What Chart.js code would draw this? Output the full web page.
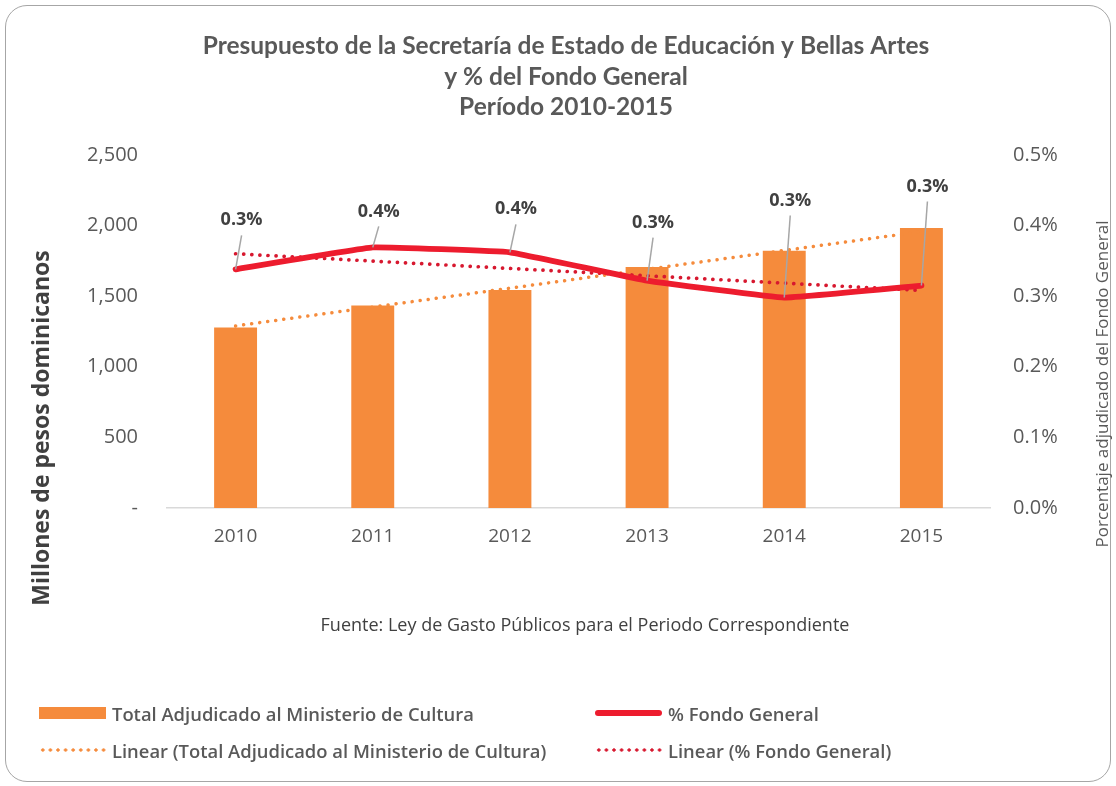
<!DOCTYPE html>
<html>
<head>
<meta charset="utf-8">
<script src="https://cdn.jsdelivr.net/npm/chart.js@4.4.1/dist/chart.umd.min.js"></script>
<style>
  html, body { margin: 0; padding: 0; background: #fff; }
  #wrap { position: relative; width: 1116px; height: 786px; overflow: hidden; }
  #frame { position: absolute; left: 5px; top: 5px; width: 1106px; height: 777px; box-sizing: border-box;
           border: 1.5px solid #a6a6a6; border-radius: 22px; }
  #chart { position: absolute; left: 0; top: 0; }
  #source { position: absolute; left: 0; width: 1170px; top: 612px; text-align: center;
            font-family: "Open Sans", sans-serif; font-size: 18px; color: #404040; }
  .leg { position: absolute; height: 24px; display: flex; align-items: center;
         font-family: "Open Sans", sans-serif; font-weight: 600; font-size: 18.4px; color: #595959; white-space: nowrap; }
  .sym { width: 67px; margin-right: 6px; }
</style>
</head>
<body>
<div id="wrap">
  <div id="frame"></div>
  <canvas id="chart" width="1116" height="786"></canvas>
  <div id="source">Fuente: Ley de Gasto Públicos para el Periodo Correspondiente</div>
  <div id="legend"></div>
</div>
<script>
// values
const years = ['2010', '2011', '2012', '2013', '2014', '2015'];
const totalCultura = [1277, 1433, 1544, 1707, 1822, 1983];      // millones de pesos
const pctFondo = [0.338, 0.369, 0.362, 0.322, 0.298, 0.315];    // % del fondo general
const trendCultura = [1289, null, null, null, null, 1957];      // linear trend, ends only
const trendFondo = [0.360, null, null, null, null, 0.308];
const leftTickLabels = ['-', '500', '1,000', '1,500', '2,000', '2,500'];
const rightTickLabels = ['0.0%', '0.1%', '0.2%', '0.3%', '0.4%', '0.5%'];

const orange = '#f58b3c';
const red = '#ed1c2e';
const darkRed = '#d7182f';

// how far above each point the Excel label was dragged
const labelLift = [-49, -36, -43, -58, -97, -99];

const fondoLabels = {
  id: 'fondoLabels',
  afterDatasetsDraw(chart) {
    const ctx = chart.ctx;
    const meta = chart.getDatasetMeta(1);
    ctx.save();
    meta.data.forEach((pt, i) => {
      const lx = pt.x + 6;
      const ly = pt.y + labelLift[i];
      ctx.strokeStyle = '#a6a6a6';
      ctx.lineWidth = 1.5;
      ctx.beginPath();
      ctx.moveTo(lx, ly + 15);
      ctx.lineTo(pt.x, pt.y);
      ctx.stroke();
      ctx.fillStyle = '#404040';
      ctx.font = 'bold 18px "Open Sans"';
      ctx.textAlign = 'center';
      ctx.textBaseline = 'middle';
      ctx.fillText(pctFondo[i].toFixed(1) + '%', lx, ly);
    });
    ctx.restore();
  }
};

const axisTitles = {
  id: 'axisTitles',
  afterDraw(chart) {
    const ctx = chart.ctx;
    ctx.save();
    ctx.textAlign = 'center';
    ctx.textBaseline = 'middle';
    ctx.translate(42, 428);
    ctx.rotate(-Math.PI / 2);
    ctx.fillStyle = '#404040';
    ctx.font = 'bold 23px "Open Sans"';
    ctx.fillText('Millones de pesos dominicanos', 0, 0);
    ctx.restore();
    ctx.save();
    ctx.textAlign = 'center';
    ctx.textBaseline = 'middle';
    ctx.translate(1103, 384);
    ctx.rotate(-Math.PI / 2);
    ctx.fillStyle = '#595959';
    ctx.font = '17px "Open Sans"';
    ctx.fillText('Porcentaje adjudicado del Fondo General', 0, 0);
    ctx.restore();
  }
};

const chart = new Chart(document.getElementById('chart'), {
  data: {
    labels: years,
    datasets: [
      { type: 'bar', label: 'Total Adjudicado al Ministerio de Cultura', data: totalCultura,
        backgroundColor: orange, yAxisID: 'y', barPercentage: 0.313, categoryPercentage: 1, order: 4 },
      { type: 'line', label: '% Fondo General', data: pctFondo, yAxisID: 'y1',
        borderColor: red, borderWidth: 5.8, pointRadius: 0, tension: 0.07, borderCapStyle: 'round',
        borderJoinStyle: 'round', order: 1 },
      { type: 'line', label: 'Linear (Total Adjudicado al Ministerio de Cultura)', data: trendCultura, yAxisID: 'y',
        borderColor: orange, borderWidth: 3.5, borderDash: [0.1, 8], borderCapStyle: 'round',
        pointRadius: 0, spanGaps: true, order: 3 },
      { type: 'line', label: 'Linear (% Fondo General)', data: trendFondo, yAxisID: 'y1',
        borderColor: darkRed, borderWidth: 3.7, borderDash: [0.1, 8], borderCapStyle: 'round',
        pointRadius: 0, spanGaps: true, order: 2 }
    ]
  },
  options: {
    responsive: false,
    animation: false,
    layout: { padding: { top: 10, left: 16, right: 0, bottom: 228 } },
    plugins: {
      legend: { display: false },
      tooltip: { enabled: false },
      title: {
        display: true,
        text: ['Presupuesto de la Secretaría de Estado de Educación y Bellas Artes',
               'y % del Fondo General', 'Período 2010-2015'],
        color: '#595959',
        font: { family: 'Lato', size: 24.5, weight: 'bold', lineHeight: 1.25 },
        padding: { top: 21, bottom: 32 }
      }
    },
    scales: {
      x: {
        grid: { display: false, drawTicks: false },
        border: { color: '#d9d9d9', width: 1.5 },
        ticks: { color: '#595959', font: { family: 'Open Sans', size: 19 }, padding: 17 },
        afterFit: s => { s.height = 50; }
      },
      y: {
        position: 'left', min: 0, max: 2500,
        grid: { display: false, drawTicks: false },
        border: { display: false },
        ticks: { stepSize: 500, padding: 29, color: '#595959', font: { family: 'Open Sans', size: 20 },
                 callback: (v, i) => leftTickLabels[i] },
        afterFit: s => { s.width = 151; }
      },
      y1: {
        position: 'right', min: 0, max: 0.5,
        grid: { display: false, drawTicks: false },
        border: { display: false },
        ticks: { stepSize: 0.1, padding: 23, color: '#595959', font: { family: 'Open Sans', size: 20 },
                 callback: (v, i) => rightTickLabels[i] },
        afterFit: s => { s.width = 126; }
      }
    }
  },
  plugins: [fondoLabels, axisTitles]
});

// legend in two columns, like the Excel original
const legendSpots = [[39, 701], [595, 701], [39, 738], [595, 738]];
const legendBox = document.getElementById('legend');
chart.data.datasets.forEach((ds, i) => {
  const item = document.createElement('div');
  item.className = 'leg';
  item.style.left = legendSpots[i][0] + 'px';
  item.style.top = legendSpots[i][1] + 'px';
  const sym = document.createElement('span');
  sym.className = 'sym';
  if (ds.type === 'bar') {
    sym.style.height = '12px';
    sym.style.background = ds.backgroundColor;
  } else if (ds.borderDash) {
    sym.style.height = '4px';
    sym.style.background = `radial-gradient(circle, ${ds.borderColor} 1.4px, transparent 1.9px) 0 0 / 7.6px 4px repeat-x`;
  } else {
    sym.style.height = '6px';
    sym.style.borderRadius = '3px';
    sym.style.background = ds.borderColor;
  }
  item.appendChild(sym);
  item.appendChild(document.createTextNode(ds.label));
  legendBox.appendChild(item);
});
</script>
</body>
</html>
